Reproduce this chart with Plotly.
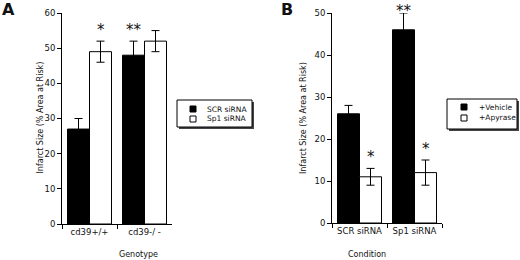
import plotly.graph_objects as go

# Panel A data
genotypes = ["cd39+/+", "cd39-/ -"]
scr_vals = [27, 48]
scr_err = [3, 4]
sp1_vals = [49, 52]
sp1_err = [3, 3]

# Panel B data
conditions = ["SCR siRNA", "Sp1 siRNA"]
veh_vals = [26, 46]
veh_err = [2, 4]
apy_vals = [11, 12]
apy_err = [2, 3]

W, H = 520, 260
FONT = "DejaVu Sans"
TXT = "#111111"

def px(x):
    return x / W

def py(y):
    return 1 - y / H

fig = go.Figure()

bar_line = dict(color="black", width=1)
err_style = dict(type="data", color="black", thickness=1, width=4, visible=True)

fig.add_trace(go.Bar(x=genotypes, y=scr_vals, name="SCR siRNA",
                     marker=dict(color="black", line=bar_line),
                     error_y=dict(array=scr_err, **err_style),
                     xaxis="x", yaxis="y"))
fig.add_trace(go.Bar(x=genotypes, y=sp1_vals, name="Sp1 siRNA",
                     marker=dict(color="white", line=bar_line),
                     error_y=dict(array=sp1_err, **err_style),
                     xaxis="x", yaxis="y"))
fig.add_trace(go.Bar(x=conditions, y=veh_vals, name="+Vehicle",
                     marker=dict(color="black", line=bar_line),
                     error_y=dict(array=veh_err, **err_style),
                     xaxis="x2", yaxis="y2"))
fig.add_trace(go.Bar(x=conditions, y=apy_vals, name="+Apyrase",
                     marker=dict(color="white", line=bar_line),
                     error_y=dict(array=apy_err, **err_style),
                     xaxis="x2", yaxis="y2"))

axis_common = dict(showline=True, linecolor="black", linewidth=1, ticks="outside",
                   ticklen=4, tickcolor="black", showgrid=False, zeroline=False,
                   tickangle=0, automargin=False,
                   tickfont=dict(family=FONT, size=8.5, color=TXT))

fig.update_layout(
    width=W, height=H,
    margin=dict(l=0, r=0, t=0, b=0, autoexpand=False),
    paper_bgcolor="white", plot_bgcolor="white",
    barmode="group", bargap=0.2, bargroupgap=0,
    showlegend=False,
    font=dict(family=FONT, size=9, color=TXT),
    xaxis=dict(domain=[px(62), px(172)], anchor="y", type="category",
               tickson="boundaries", **axis_common),
    yaxis=dict(domain=[py(224), py(13)], anchor="x", range=[0, 60],
               tickvals=[0, 10, 20, 30, 40, 50, 60], **axis_common),
    xaxis2=dict(domain=[px(332), px(442)], anchor="y2", type="category",
                tickson="boundaries", **axis_common),
    yaxis2=dict(domain=[py(223), py(13)], anchor="x2", range=[0, 50],
                tickvals=[0, 10, 20, 30, 40, 50], **axis_common),
)

annotations = [
    dict(text="<b>A</b>", x=px(0), y=py(0), xref="paper", yref="paper",
         xanchor="left", yanchor="top", yshift=2,
         showarrow=False, font=dict(size=16, color=TXT)),
    dict(text="<b>B</b>", x=px(279), y=py(0), xref="paper", yref="paper",
         xanchor="left", yanchor="top", yshift=2,
         showarrow=False, font=dict(size=16, color=TXT)),
    dict(text="Infarct Size (% Area at Risk)", x=px(34), y=py(118), xref="paper",
         yref="paper", textangle=-90, showarrow=False, font=dict(size=8, color=TXT)),
    dict(text="Infarct Size (% Area at Risk)", x=px(304), y=py(118), xref="paper",
         yref="paper", textangle=-90, showarrow=False, font=dict(size=8, color=TXT)),
    dict(text="Genotype", x=px(117), y=py(261), xref="paper", yref="paper",
         showarrow=False, font=dict(size=8, color=TXT)),
    dict(text="Condition", x=px(388), y=py(261), xref="paper", yref="paper",
         showarrow=False, font=dict(size=8, color=TXT)),
    # significance markers
    dict(text="*", x=genotypes[0], y=sp1_vals[0] + sp1_err[0], xref="x", yref="y",
         xshift=11, yanchor="bottom", showarrow=False, font=dict(size=15, color=TXT)),
    dict(text="**", x=genotypes[1], y=scr_vals[1] + scr_err[1], xref="x", yref="y",
         xshift=-11, yanchor="bottom", showarrow=False, font=dict(size=15, color=TXT)),
    dict(text="**", x=conditions[1], y=veh_vals[1] + veh_err[1], xref="x2", yref="y2",
         xshift=-11, yanchor="top", yshift=13, showarrow=False, font=dict(size=15, color=TXT)),
    dict(text="*", x=conditions[0], y=apy_vals[0] + apy_err[0], xref="x2", yref="y2",
         xshift=11, yanchor="bottom", showarrow=False, font=dict(size=15, color=TXT)),
    dict(text="*", x=conditions[1], y=apy_vals[1] + apy_err[1], xref="x2", yref="y2",
         xshift=11, yanchor="bottom", showarrow=False, font=dict(size=15, color=TXT)),
]

shapes = []

def add_legend(x0, x1, y0, y1, rows, sw_x, txt_x):
    # drop shadow, then box
    shapes.append(dict(type="rect", xref="paper", yref="paper",
                       x0=px(x0 + 2), x1=px(x1 + 2), y0=py(y1 + 2), y1=py(y0 + 2),
                       fillcolor="#444444", line=dict(width=0), layer="above"))
    shapes.append(dict(type="rect", xref="paper", yref="paper",
                       x0=px(x0), x1=px(x1), y0=py(y1), y1=py(y0),
                       fillcolor="white", line=dict(color="black", width=1), layer="above"))
    for label, color, ry in rows:
        shapes.append(dict(type="rect", xref="paper", yref="paper",
                           x0=px(sw_x - 3), x1=px(sw_x + 3), y0=py(ry + 3), y1=py(ry - 3),
                           fillcolor=color, line=dict(color="black", width=1), layer="above"))
        annotations.append(dict(text=label, x=px(txt_x), y=py(ry), xref="paper", yref="paper",
                                xanchor="left", showarrow=False,
                                font=dict(size=7.5, color=TXT)))

add_legend(177, 252, 100, 127,
           [("SCR siRNA", "black", 109), ("Sp1 siRNA", "white", 119)], 193, 205)
add_legend(447, 517, 99, 129,
           [("+Vehicle", "black", 107), ("+Apyrase", "white", 118)], 464, 477)

fig.update_layout(annotations=annotations, shapes=shapes)

fig.write_html("out.html", config={"displayModeBar": False},
               post_script="document.body.style.margin='0';document.body.style.padding='0';")
